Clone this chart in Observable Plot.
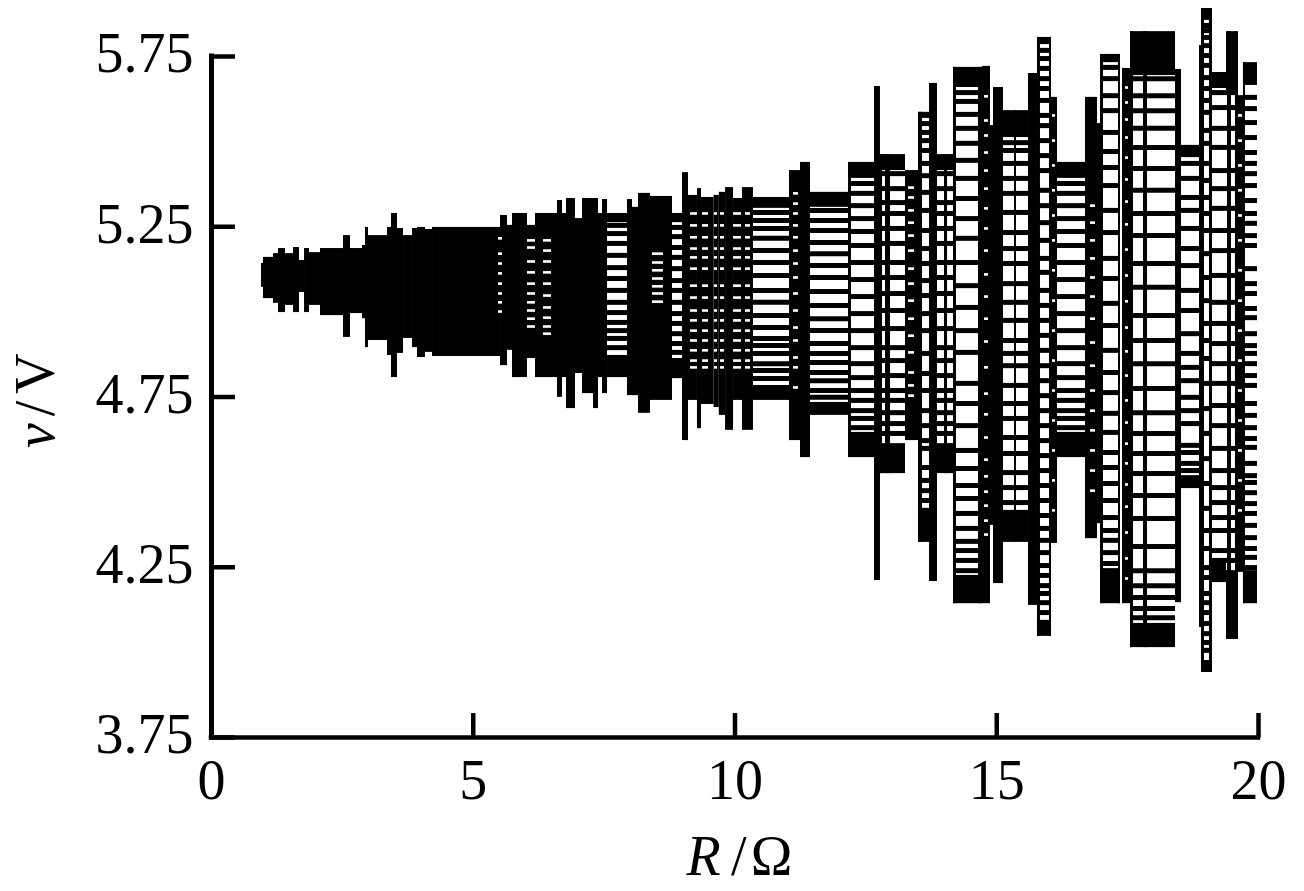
<!DOCTYPE html>
<html><head><meta charset="utf-8">
<style>html,body{margin:0;padding:0;background:#fff}svg{display:block;filter:blur(0.45px)}</style>
<script src="https://cdn.jsdelivr.net/npm/d3@7"></script>
<script src="https://cdn.jsdelivr.net/npm/@observablehq/plot@0.6"></script>
</head><body><div id="chart"></div>
<script>
const xTicks=[0,5,10,15,20];
const yTicks=[3.75,4.25,4.75,5.25,5.75];

// Solid envelope of the dense part: [R from, R to, v top, v bottom]
const envelopeLeft=[
[.955,.993,5.142,5.072],[.993,1.184,5.160,5.039],[1.184,1.28,5.171,5.025],[1.28,1.414,5.186,4.998],
[1.414,1.566,5.171,5.019],[1.566,1.681,5.189,4.998],[1.681,1.777,5.151,5.057],[1.777,1.872,5.186,4.998],
[1.872,2.082,5.174,5.019],[2.082,2.521,5.186,4.989],[2.521,2.655,5.224,4.925],[2.655,2.884,5.186,4.995],
[2.884,2.942,5.195,4.980],[2.942,2.999,5.248,4.895],[2.999,3.362,5.224,4.916],[3.362,3.438,5.248,4.872],
[3.438,3.553,5.289,4.807],[3.553,3.668,5.245,4.878],[3.668,3.84,5.224,4.922],[3.84,3.935,5.245,4.895],
[3.935,4.088,5.248,4.866],[4.088,4.222,5.242,4.881],[4.222,5.521,5.248,4.869],[5.521,5.654,5.283,4.842],
[5.654,5.75,5.254,4.887],[5.75,6.036,5.289,4.807],[6.036,6.189,5.254,4.863],[6.189,6.609,5.289,4.807],
[6.609,6.705,5.327,4.749],[6.705,6.781,5.289,4.807],[6.781,6.953,5.333,4.716],[6.953,7.087,5.274,4.819],
[7.087,7.297,5.333,4.760],[7.297,7.393,5.333,4.716],[7.393,7.469,5.289,4.807],[7.469,7.565,5.330,4.760],
[7.946,8.042,5.330,4.754],[8.042,8.157,5.307,4.754],[8.157,8.386,5.348,4.702],[8.386,8.806,5.339,4.740],
[8.997,9.112,5.409,4.622],[9.112,9.283,5.342,4.740],[9.283,9.36,5.362,4.657],[9.36,9.6,5.336,4.728],
[9.6,9.7,5.342,4.719],[9.7,9.82,5.351,4.696],[9.82,9.972,5.365,4.652],[9.972,10.143,5.333,4.740],
[10.143,10.353,5.365,4.652],[11.041,11.251,5.415,4.622],[11.251,11.442,5.439,4.572],[12.168,12.225,5.439,4.572],
];
// Top and bottom caps of the ladder bands
const capsRight=[
[7.565,7.946,5.289,5.262],[7.565,7.946,4.872,4.807],[8.806,8.997,5.289,5.262],[8.806,8.997,4.863,4.804],
[10.353,11.041,5.336,5.304],[10.353,11.041,4.769,4.740],[11.442,12.168,5.351,5.307],[11.442,12.168,4.734,4.696],
[12.225,12.722,5.439,5.392],[12.225,12.722,4.646,4.572],[12.722,13.257,5.462,5.415],[12.722,13.257,4.613,4.525],
[13.505,13.83,5.586,5.577],[13.505,13.83,4.423,4.323],[13.83,14.174,5.462,5.415],[13.83,14.174,4.613,4.525],
[14.174,14.728,5.718,5.659],[14.174,14.728,4.226,4.143],[15.129,15.606,5.591,5.512],[15.129,15.606,4.417,4.323],
[15.778,16.046,5.806,5.785],[15.778,16.046,4.094,4.047],[16.161,16.695,5.439,5.392],[16.161,16.695,4.646,4.572],
[16.982,17.364,5.756,5.732],[16.982,17.364,4.246,4.143],[17.555,18.415,5.823,5.694],[17.555,18.415,4.085,4.014],
[18.529,18.873,5.489,5.453],[18.529,18.873,4.519,4.481],[18.911,19.121,5.891,5.856],[18.911,19.121,3.976,3.941],
[19.121,19.389,5.703,5.656],[19.121,19.389,4.264,4.205],[19.389,19.599,5.823,5.650],[19.389,19.599,4.240,4.038],
[19.713,19.981,5.732,5.665],[19.713,19.981,4.240,4.143],
];
// Solid columns in the branching part
const columnsRight=[
[12.665,12.779,5.662,4.211],[12.76,12.818,5.462,4.525],[12.875,12.971,5.462,4.525],[13.257,13.505,5.415,4.622],
[13.505,13.582,5.586,4.323],[13.716,13.868,5.671,4.208],[14.002,14.06,5.462,4.525],[14.174,14.231,5.718,4.143],
[14.651,14.728,5.718,4.143],[14.728,14.88,5.721,4.143],[14.88,14.938,5.547,4.373],[14.938,15.129,5.659,4.202],
[15.339,15.377,5.591,4.323],[15.606,15.778,5.700,4.138],[15.778,15.835,5.806,4.047],[16.008,16.046,5.806,4.047],
[16.046,16.161,5.630,4.320],[16.695,16.925,5.630,4.334],[16.925,16.982,5.553,4.378],[16.982,17.039,5.756,4.143],
[17.326,17.364,5.756,4.143],[17.402,17.555,5.715,4.143],[17.555,17.612,5.823,4.014],[17.803,17.88,5.823,4.014],
[18.415,18.529,5.712,4.146],[18.873,18.911,5.782,4.073],[18.911,18.968,5.891,3.941],[19.064,19.121,5.891,3.941],
[19.408,19.484,5.823,4.038],[19.56,19.618,5.823,4.038],[19.599,19.713,5.635,4.235],[19.713,19.751,5.732,4.143],
];
// Voltage levels of the branches
const levelsA=[5.377,5.348,5.312,5.274,5.236,5.195,5.145,5.095,5.045,4.995,4.945,4.895,4.848,4.807,4.769,4.740,4.710,4.687,4.660];
const levelsB=[5.406,5.362,5.321,5.289,5.245,5.201,5.145,5.101,5.054,5.004,4.951,4.895,4.857,4.813,4.769,4.740,4.704,4.672,4.643];
const levelsD=[5.577,5.553,5.527,5.503,5.474,5.436,5.400,5.351,5.298,5.239,5.186,5.142,5.092,5.048,4.995,4.945,4.878,4.819,4.769,4.710,4.666,4.622,4.599,4.543,4.505,4.475,4.446];
const levelsF=[5.644,5.618,5.580,5.539,5.495,5.445,5.392,5.333,5.274,5.216,5.145,5.077,5.013,4.945,4.881,4.790,4.731,4.666,4.593,4.540,4.490,4.452,4.408,4.364,4.326,4.299,4.270,4.240];
const levelsG=[5.497,5.474,5.436,5.392,5.348,5.292,5.233,5.186,5.142,5.083,5.028,4.975,4.916,4.878,4.842,4.784,4.731,4.687,4.631,4.584,4.528,4.484,4.440];
const levelsH=[5.718,5.685,5.635,5.591,5.527,5.471,5.424,5.371,5.298,5.233,5.157,5.098,5.025,4.960,4.887,4.822,4.763,4.702,4.646,4.587,4.543,4.496,4.446,4.396,4.358,4.329,4.293,4.261];
const levelsI=[5.685,5.635,5.591,5.539,5.483,5.421,5.357,5.289,5.224,5.142,5.072,4.989,4.916,4.848,4.775,4.704,4.643,4.584,4.525,4.461,4.393,4.311,4.240,4.196,4.161,4.129,4.102];
const levelsJ=[5.436,5.392,5.336,5.298,5.245,5.186,5.136,5.063,5.004,4.936,4.878,4.837,4.798,4.749,4.710,4.672,4.608,4.587,4.555,4.534];
const levelsK=[5.644,5.600,5.539,5.483,5.415,5.362,5.304,5.239,5.180,5.107,5.028,4.966,4.907,4.848,4.790,4.725,4.666,4.599,4.534,4.484,4.440,4.396,4.358,4.299,4.270];
const levelsM=[5.630,5.597,5.556,5.512,5.468,5.436,5.406,5.371,5.327,5.289,5.260,5.224,5.195,5.127,5.083,5.054,5.010,4.983,4.936,4.901,4.878,4.848,4.813,4.784,4.731,4.696,4.660,4.628,4.602,4.555,4.519,4.499,4.469,4.437,4.408,4.373,4.337,4.305,4.279,4.249];
const levelsN=[5.768,5.744,5.715,5.685,5.656,5.621,5.577,5.547,5.503,5.459,5.415,5.357,5.312,5.262,5.210,5.157,5.116,5.063,5.019,4.975,4.931,4.887,4.842,4.798,4.754,4.710,4.666,4.622,4.578,4.534,4.490,4.446,4.402,4.364,4.329,4.293,4.255,4.226,4.196,4.173,4.146,4.117];
const levelsO=[5.841,5.826,5.806,5.782,5.753,5.724,5.688,5.656,5.621,5.586,5.533,5.495,5.436,5.386,5.336,5.289,5.239,5.171,5.101,5.033,4.966,4.916,4.863,4.790,4.716,4.643,4.569,4.496,4.423,4.358,4.305,4.249,4.220,4.173,4.146,4.117,4.085,4.055,4.029,4.006];
const levelsP=[5.254,5.230,5.201,5.166,5.130,5.098,5.063,5.028,4.998,4.969,4.945,4.922,4.895];
const levelsQ=[5.292,5.268,5.245,5.216,5.180,5.145,5.107,5.063,5.028,4.989,4.954,4.922,4.901,4.878,4.848,4.828,4.804,4.778];
const levelsR=[5.298,5.268,5.239,5.204,5.171,5.136,5.101,5.060,5.019,4.980,4.945,4.907,4.878,4.851,4.822,4.798,4.769,4.749];
const levelsS=[5.248,5.221,5.189,5.160,5.127,5.092,5.063,5.028,4.995,4.966,4.936,4.907,4.881];

const ladders=[
[7.565,7.946,levelsP],[8.806,8.997,levelsS],[10.353,11.041,levelsQ],[11.442,12.168,levelsR],
[12.225,12.722,levelsA],[12.722,13.257,levelsB],[13.505,13.83,levelsD],[13.83,14.174,levelsB],
[14.174,14.728,levelsF],[15.129,15.606,levelsG],[15.778,16.046,levelsN],[16.161,16.695,levelsA],
[16.982,17.364,levelsH],[17.555,18.415,levelsI],[18.529,18.873,levelsJ],[18.911,19.121,levelsO],
[19.121,19.389,levelsK],[19.389,19.599,levelsK],[19.713,19.981,levelsM],
];

// Small openings left between branches inside the dense part
const gapsW1=[5.216,5.171,5.142,5.113,5.083,5.054,5.028,5.001];
const gapsW2=[5.210,5.189,5.148,5.116,5.083,5.054,5.028,5.004,4.980,4.957];
const gapsW3=[5.210,5.180,5.148,5.116,5.083,5.048,5.013,4.983,4.957,4.936];
const gapsW4=[5.171,5.145,5.122,5.098,5.075,5.054,5.030];
const gapsW5=[5.289,5.254,5.219,5.186,5.160,5.127,5.077,5.042,5.004,4.975,4.945,4.916,4.887,4.857,4.837];
const gapsW8=[5.348,5.318,5.289,5.254,5.219,5.180,5.142,5.101,5.054,5.004,4.954,4.916,4.866,4.837,4.778];
const gapsC=[5.365,5.336,5.298,5.262,5.224,5.180,5.127,5.083,5.033,4.980,4.930,4.881,4.822,4.784,4.754];
const gapsF=[5.633,5.562,5.518,5.468,5.415,5.362,5.304,5.245,5.180,5.110,5.045,4.980,4.913,4.837,4.760,4.699,4.631,4.566,4.517,4.472,4.431,4.387,4.346];
const gapsI=[5.659,5.615,5.565,5.512,5.453,5.389,5.324,5.257,5.183,5.107,5.031,4.954,4.884,4.813,4.740,4.675,4.613,4.555,4.493,4.428,4.352,4.276,4.217];
const gapsT=[5.312,5.262,5.210,5.157,5.101,5.045,4.980,4.910,4.842,4.769,4.710,4.652,4.593,4.534,4.475];
const gapsU=[5.577,5.503,5.430,5.357,5.283,5.210,5.122,5.033,4.945,4.857,4.769,4.681,4.593,4.505,4.417];
const gaps=[
[5.483,5.559,gapsW1],[6.036,6.189,gapsW2],[6.342,6.495,gapsW3],[8.424,8.634,gapsW4],
[9.150,9.283,gapsW5],[9.379,9.494,gapsW5],[9.608,9.666,gapsW5],[9.723,9.8,gapsW5],
[9.972,10.124,gapsW5],[10.2,10.296,gapsW5],[11.118,11.213,gapsW8],[13.315,13.429,gapsC],
[14.766,14.842,gapsF],[16.065,16.122,gapsU],[16.791,16.887,gapsT],[17.459,17.517,gapsI],[19.618,19.694,gapsU],
];

const rows=list=>list.flatMap(([x1,x2,levels])=>levels.map(y=>({x1,x2,y})));
const blocks=[...envelopeLeft,...capsRight,...columnsRight];
const serif="'Liberation Serif','Times New Roman',serif";

const chart=Plot.plot({
  width:1304,height:891,
  marginLeft:211,marginRight:46,marginTop:56,marginBottom:154,
  style:{fontFamily:serif,fontSize:"56px",background:"#fff",color:"#000"},
  x:{domain:[0,20],axis:null},
  y:{domain:[3.75,5.75],axis:null},
  marks:[
    Plot.rect(blocks,{x1:d=>d[0],x2:d=>d[1],y1:d=>d[2],y2:d=>d[3],fill:"#000"}),
    Plot.ruleY(rows(ladders),{x1:"x1",x2:"x2",y:"y",stroke:"#000",strokeWidth:5}),
    Plot.ruleY(rows(gaps),{x1:"x1",x2:"x2",y:"y",stroke:"#fff",strokeWidth:2.6}),
    Plot.ruleX([0],{strokeWidth:5,strokeLinecap:"square"}),
    Plot.ruleY([3.75],{strokeWidth:4.5,strokeLinecap:"square"}),
    Plot.ruleX(xTicks,{strokeWidth:4.5,insetTop:657}),
    Plot.ruleY(yTicks,{strokeWidth:4.5,insetRight:1023}),
    Plot.axisX({ticks:xTicks,tickSize:0,tickPadding:22,label:null,fontSize:56,fontVariant:"normal"}),
    Plot.axisY({ticks:yTicks,tickSize:0,tickPadding:18,dy:-2,label:null,fontSize:56,fontVariant:"normal",tickFormat:d=>d.toFixed(2)}),
    Plot.text(["R"],{x:[9.4],y:[3.75],dy:120,text:d=>d,fontStyle:"italic",fontSize:56}),
    Plot.text(["/"],{x:[10.07],y:[3.75],dy:120,text:d=>d,fontSize:56}),
    Plot.text(["Ω"],{x:[10.7],y:[3.75],dy:120,text:d=>d,fontSize:56}),
    Plot.text(["v"],{x:[0],y:[4.637],dx:-175,text:d=>d,rotate:-90,fontStyle:"italic",fontSize:56}),
    Plot.text(["/"],{x:[0],y:[4.716],dx:-175,text:d=>d,rotate:-90,fontSize:56}),
    Plot.text(["V"],{x:[0],y:[4.819],dx:-175,text:d=>d,rotate:-90,fontSize:56}),
  ]
});
document.getElementById("chart").appendChild(chart);
</script></body></html>
